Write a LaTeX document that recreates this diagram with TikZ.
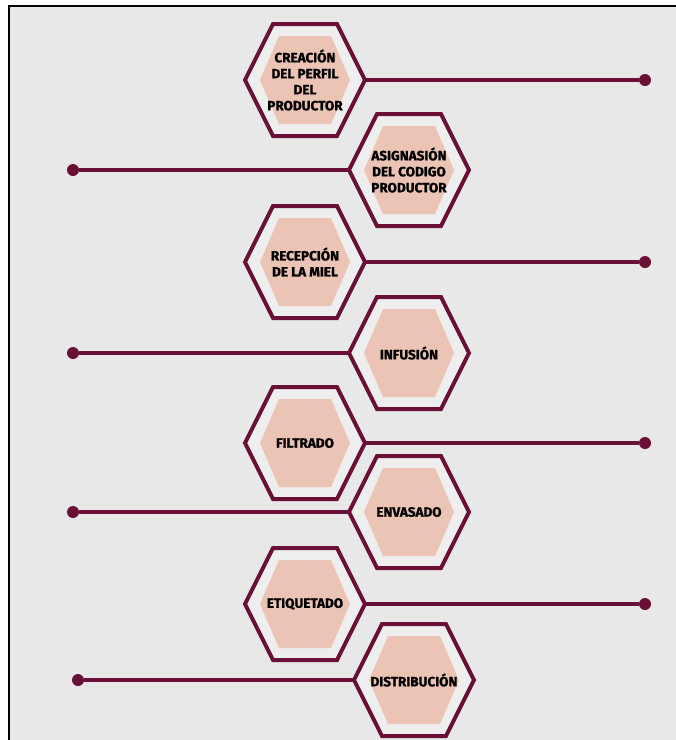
\documentclass[tikz,border=0pt]{standalone}
\usepackage{fontspec}
\newfontfamily\hexfont{Fira Sans}[BoldFeatures={FakeBold=1.2}]
\definecolor{maroon}{HTML}{6A1036}
\definecolor{peach}{HTML}{EBC4B6}
\definecolor{bggray}{HTML}{E8E8E8}
\definecolor{gapgray}{HTML}{EEEEEE}
\tikzset{
  outerhex/.style={draw=maroon, line width=4pt, fill=gapgray, line join=miter},
  innerhex/.style={fill=peach, draw=none},
  hexlabel/.style={font=\hexfont\bfseries\fontsize{13.5}{16}\selectfont, align=center, text=black, inner sep=0pt},
  linkline/.style={draw=maroon, line width=3.2pt},
  enddot/.style={circle, fill=maroon, minimum size=12pt, inner sep=0pt},
}
\newcommand{\hexa}[4]{%
  \path[outerhex] (#2-60,#3) -- (#2-32,#3-56) -- (#2+32,#3-56) -- (#2+60,#3) -- (#2+32,#3+56) -- (#2-32,#3+56) -- cycle;
  \path[innerhex] (#2-45,#3) -- (#2-26,#3-44) -- (#2+26,#3-44) -- (#2+45,#3) -- (#2+26,#3+44) -- (#2-26,#3+44) -- cycle;
  \node[hexlabel] (#1) at (#2,#3) {#4};
  \coordinate (#1l) at (#2-60,#3);
  \coordinate (#1r) at (#2+60,#3);
}
\begin{document}
\begin{tikzpicture}[x=1pt,y=-1pt]
\useasboundingbox (0,0) rectangle (676,740);
\fill[white] (0,0) rectangle (676,740);
\fill[bggray] (9,6) rectangle (676,740);
\draw[black, line width=2pt] (9,740) -- (9,6) -- (676,6);
% dots
\node[enddot] (d1) at (645,80) {};
\node[enddot] (d2) at (73,170) {};
\node[enddot] (d3) at (645,262) {};
\node[enddot] (d4) at (73,353) {};
\node[enddot] (d5) at (645,443) {};
\node[enddot] (d6) at (73,512) {};
\node[enddot] (d7) at (645,604) {};
\node[enddot] (d8) at (78,680) {};
% connectors (drawn first, hexes cover ends)
\coordinate (c1) at (365,80);
\coordinate (c2) at (350,170);
\coordinate (c3) at (365,262);
\coordinate (c4) at (350,353);
\coordinate (c5) at (365,443);
\coordinate (c6) at (350,512);
\coordinate (c7) at (365,604);
\coordinate (c8) at (355,680);
\draw[linkline] (c1) -- (d1);
\draw[linkline] (d2) -- (c2);
\draw[linkline] (c3) -- (d3);
\draw[linkline] (d4) -- (c4);
\draw[linkline] (c5) -- (d5);
\draw[linkline] (d6) -- (c6);
\draw[linkline] (c7) -- (d7);
\draw[linkline] (d8) -- (c8);
% hexagons
\hexa{h1}{305}{80}{CREACIÓN\\DEL PERFIL\\DEL\\PRODUCTOR}
\hexa{h2}{409}{170}{ASIGNASIÓN\\DEL CODIGO\\PRODUCTOR}
\hexa{h3}{305}{262}{RECEPCIÓN\\DE LA MIEL}
\hexa{h4}{409}{353}{INFUSIÓN}
\hexa{h5}{305}{443}{FILTRADO}
\hexa{h6}{409}{512}{ENVASADO}
\hexa{h7}{305}{604}{ETIQUETADO}
\hexa{h8}{414}{680}{DISTRIBUCIÓN}
\end{tikzpicture}
\end{document}
